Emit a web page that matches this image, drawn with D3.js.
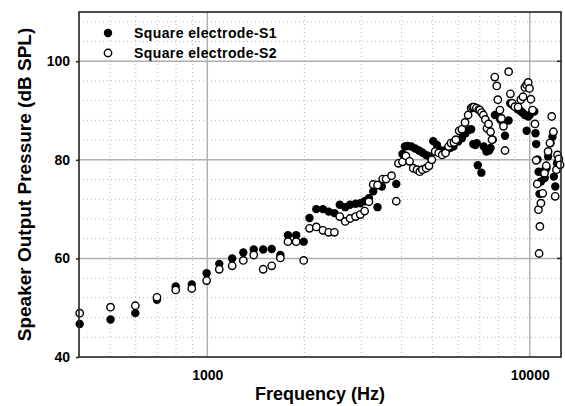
<!DOCTYPE html>
<html>
<head>
<meta charset="utf-8">
<script src="https://cdn.jsdelivr.net/npm/d3@7"></script>
<style>
  body { margin: 0; background: #fff; }
  text { font-family: "Liberation Sans", Arial, sans-serif; font-weight: bold; fill: #000; }
</style>
</head>
<body>
<div class="chart"></div>
<script>
// data (Hz, dB SPL)
var s1Freq = [402, 501, 598, 698, 798, 895, 995, 1089, 1194, 1293, 1393, 1490, 1584, 1685, 1779, 1886, 1990,
  2074, 2178, 2283, 2379, 2478, 2575, 2677, 2772, 2883, 2981, 3076, 3171, 3270, 3372, 3476, 3855,
  4030, 4100, 4180, 4290, 4410, 4530, 4645, 4770, 4890, 5020, 5155, 5300, 5480, 5660, 5800, 6000, 6160, 6320, 6480, 6580,
  6680, 6780, 6900, 6850, 7080, 7200, 7340, 7480, 7560, 7680, 7800, 7960, 8100, 8250, 8380,
  8600, 8700, 8820, 8930, 9050, 9160, 9280, 9400, 9530, 9650, 9780, 9890, 10000,
  10330, 10420, 10470, 10570, 10650, 10720, 10830, 10960, 11130, 11270, 11400, 11600, 11760, 11880, 12000, 12150, 12280, 12420];
var s1Val = [46.7, 47.6, 48.9, 51.6, 54.3, 54.7, 57.0, 58.9, 60.0, 61.2, 61.8, 61.8, 61.9, 60.7, 64.7, 64.7, 63.4,
  68.2, 70.0, 70.0, 69.5, 69.2, 70.9, 70.4, 70.9, 71.1, 71.2, 71.6, 72.2, 73.6, 70.4, 74.6, 75.1,
  81.2, 82.7, 82.8, 82.7, 82.3, 81.9, 81.5, 81.0, 80.7, 83.8, 83.0, 81.9, 82.0, 82.4, 82.7, 83.7, 84.4, 85.4, 86.1, 86.2,
  83.2, 83.0, 78.9, 83.4, 77.4, 82.7, 81.7, 81.9, 82.4, 84.1, 89.1, 89.1, 88.2, 87.6, 84.9,
  88.0, 91.5, 91.2, 90.9, 90.7, 90.3, 90.1, 89.8, 89.5, 89.1, 85.9, 88.8, 89.1,
  89.8, 85.4, 83.2, 80.1, 77.6, 73.1, 75.6, 77.6, 76.3, 78.3, 80.7, 83.4, 84.7, 76.6, 74.6, 79.3];

var s2Freq = [402, 501, 598, 698, 798, 895, 995, 1089, 1194, 1293, 1393, 1490, 1584, 1685, 1779, 1886, 1990,
  2074, 2178, 2283, 2379, 2478, 2575, 2677, 2772, 2883, 2981, 3076, 3171, 3270, 3372, 3500, 3584, 3727, 3855,
  3915, 4030, 4130, 4240, 4350, 4470, 4560, 4645, 4770, 4870, 4970, 5090, 5220, 5350, 5480, 5600, 5700, 5820, 5900,
  6040, 6160, 6300, 6440, 6580, 6650, 6720, 6830, 6950, 7000, 7090, 7180, 7280, 7370, 7450, 7560, 7640,
  7790, 7900, 7960, 8080, 8170, 8290, 8380, 8600, 8710, 8820, 8990, 9200, 9380, 9530, 9660, 9780, 9890, 9980, 10080, 10200,
  10380, 10470, 10550, 10640, 10750, 10690, 10830, 10970, 11110, 11250, 11400, 11550, 11700, 11840, 11990, 12100, 12190, 12310, 12420];
var s2Val = [48.9, 50.1, 50.4, 52.1, 53.6, 53.9, 55.5, 57.8, 58.5, 59.6, 60.7, 57.8, 58.5, 60.1, 63.4, 63.4, 59.6,
  66.1, 66.4, 65.7, 65.3, 65.3, 68.5, 67.5, 68.1, 68.5, 68.9, 69.6, 71.5, 75.0, 74.9, 76.1, 76.1, 76.8, 71.6,
  79.3, 79.6, 80.8, 79.7, 78.3, 78.0, 77.6, 78.0, 78.3, 78.8, 80.0, 81.7, 81.4, 81.0, 81.4, 82.7, 83.4, 83.5, 84.1,
  85.9, 86.2, 87.6, 89.1, 90.5, 90.7, 90.7, 90.5, 90.2, 90.1, 89.6, 89.1, 88.2, 86.4, 87.3, 85.7, 84.1,
  96.8, 95.0, 92.2, 90.1, 88.4, 86.8, 81.9, 97.9, 93.4, 91.5, 90.8, 90.7, 92.2, 92.8, 94.7, 95.2, 95.7, 94.5, 92.3, 90.1,
  87.3, 79.9, 75.1, 69.9, 66.5, 61.0, 71.2, 73.2, 77.3, 78.8, 81.7, 83.4, 88.8, 85.7, 72.6, 78.0, 81.0, 80.2, 79.0];

var yTicks = [40, 60, 80, 100];
var xTicks = [1000, 10000];
var seriesNames = ["Square electrode-S1", "Square electrode-S2"];

var svgWidth = 565, svgHeight = 406;
var margin = {top: 12, right: 4, bottom: 49, left: 79};
var width = svgWidth - margin.left - margin.right;
var height = svgHeight - margin.top - margin.bottom;

var svg = d3.select(".chart").append("svg")
  .attr("width", svgWidth)
  .attr("height", svgHeight);
var chart = svg.append("g")
  .attr("transform", "translate(" + margin.left + "," + margin.top + ")");

var x = d3.scaleLog().domain([400, 12500]).range([0, width]);
var y = d3.scaleLinear().domain([40, 110]).range([height, 0]);

// minor grid (dotted)
var minorX = [];
[100, 1000, 10000].forEach(function(d) {
  for (var k = 1; k < 10; k++) {
    var v = d * k;
    if (v > 400 && v < 12500 && k !== 1) minorX.push(v);
  }
});
var minorY = d3.range(44, 110, 4).filter(function(d) { return (d - 40) % 20 !== 0; });

chart.selectAll(".minx").data(minorX).enter().append("line")
  .attr("x1", function(d) { return x(d); }).attr("x2", function(d) { return x(d); })
  .attr("y1", 0).attr("y2", height)
  .attr("stroke", "#b8b8b8").attr("stroke-width", 1).attr("stroke-dasharray", "1,3");
chart.selectAll(".miny").data(minorY).enter().append("line")
  .attr("x1", 0).attr("x2", width)
  .attr("y1", function(d) { return y(d); }).attr("y2", function(d) { return y(d); })
  .attr("stroke", "#b8b8b8").attr("stroke-width", 1).attr("stroke-dasharray", "1,3");

// major grid
chart.selectAll(".majx").data(xTicks).enter().append("line")
  .attr("x1", function(d) { return x(d); }).attr("x2", function(d) { return x(d); })
  .attr("y1", 0).attr("y2", height)
  .attr("stroke", "#b0b0b0").attr("stroke-width", 1.5);
chart.selectAll(".majy").data([60, 80, 100]).enter().append("line")
  .attr("x1", 0).attr("x2", width)
  .attr("y1", function(d) { return y(d); }).attr("y2", function(d) { return y(d); })
  .attr("stroke", "#b0b0b0").attr("stroke-width", 1.5);

// right side inner ticks
chart.selectAll(".rt").data([60, 80, 100]).enter().append("line")
  .attr("x1", width - 4).attr("x2", width)
  .attr("y1", function(d) { return y(d); }).attr("y2", function(d) { return y(d); })
  .attr("stroke", "#222").attr("stroke-width", 1.5);

// axes
var leftAxis = d3.axisLeft(y).tickValues(yTicks).tickSize(3).tickPadding(6).tickFormat(d3.format("d"));
var bottomAxis = d3.axisBottom(x).tickValues(xTicks).tickSize(0).tickPadding(13).tickFormat(d3.format("d"));

var gy = chart.append("g").call(leftAxis);
var gx = chart.append("g").attr("transform", "translate(0," + height + ")").call(bottomAxis);
[gx, gy].forEach(function(g) {
  g.select(".domain").remove();
  g.selectAll("text").style("font-size", "14px").style("font-weight", "bold")
    .style("font-family", "'Liberation Sans', Arial, sans-serif").attr("fill", "#000");
  g.selectAll("line").attr("stroke", "#222").attr("stroke-width", 1.5);
});

// series
chart.selectAll(".s1").data(d3.zip(s1Freq, s1Val)).enter().append("circle")
  .attr("cx", function(d) { return x(d[0]); })
  .attr("cy", function(d) { return y(d[1]); })
  .attr("r", 4.2)
  .attr("fill", "#000");
chart.selectAll(".s2").data(d3.zip(s2Freq, s2Val)).enter().append("circle")
  .attr("cx", function(d) { return x(d[0]); })
  .attr("cy", function(d) { return y(d[1]); })
  .attr("r", 3.7)
  .attr("fill", "#fff").attr("stroke", "#000").attr("stroke-width", 1.4);

// frame
chart.append("rect").attr("width", width).attr("height", height)
  .attr("fill", "none").attr("stroke", "#222").attr("stroke-width", 1.6);

// legend
var legend = chart.selectAll(".leg").data(seriesNames).enter().append("g")
  .attr("transform", function(d, i) { return "translate(29," + (21 + i * 20) + ")"; });
legend.append("circle").attr("r", function(d, i) { return i === 0 ? 4.2 : 3.7; })
  .attr("fill", function(d, i) { return i === 0 ? "#000" : "#fff"; })
  .attr("stroke", "#000").attr("stroke-width", function(d, i) { return i === 0 ? 0 : 1.4; });
legend.append("text").attr("x", 26).attr("dy", "0.36em")
  .style("font-size", "14px").style("letter-spacing", "0.4px")
  .text(function(d) { return d; });

// axis titles
svg.append("text")
  .attr("x", margin.left + width / 2).attr("y", 400)
  .attr("text-anchor", "middle").style("font-size", "18px")
  .text("Frequency (Hz)");
svg.append("text")
  .attr("transform", "translate(31," + (margin.top + height / 2) + ") rotate(-90)")
  .attr("text-anchor", "middle").style("font-size", "19px")
  .text("Speaker Output Pressure (dB SPL)");
</script>
</body>
</html>
